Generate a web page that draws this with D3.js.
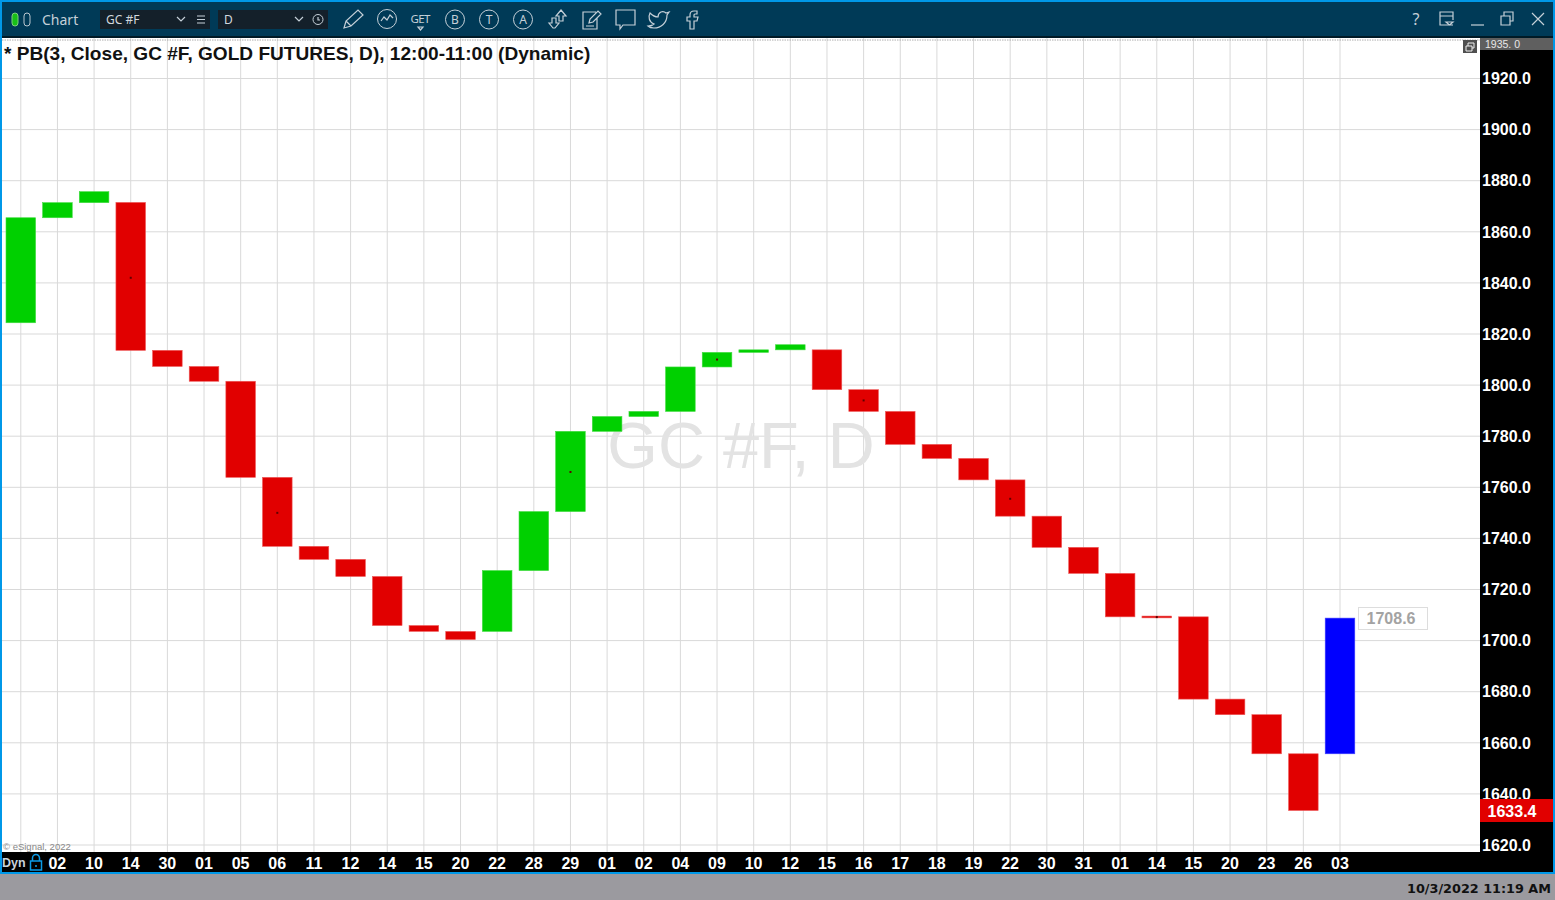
<!DOCTYPE html>
<html><head><meta charset="utf-8">
<script src="https://cdn.jsdelivr.net/npm/d3@7"></script>
<style>html,body{margin:0;padding:0;background:#fff;overflow:hidden}svg{display:block}</style>
</head><body><svg id="c" width="1555" height="900" font-family="Liberation Sans"></svg>
<script>
const dateLabels=["","02","10","14","30","01","05","06","11","12","14","15","20","22","28","29","01","02","04","09","10","12","15","16","17","18","19","22","30","31","01","14","15","20","23","26","03"];
const barHigh=[1865.5,1871.4,1875.7,1871.5,1813.6,1807.3,1801.5,1763.9,1736.9,1731.8,1725.1,1705.9,1703.6,1727.4,1750.5,1781.9,1787.7,1789.7,1807.1,1812.8,1813.8,1815.8,1813.8,1798.2,1789.7,1776.8,1771.3,1762.9,1748.7,1736.5,1726.3,1709.6,1709.3,1677.1,1671,1655.7,1708.8];
const barLow=[1824.4,1865.5,1871.4,1813.6,1807.3,1801.5,1763.9,1736.9,1731.8,1725.1,1705.9,1703.6,1700.4,1703.6,1727.4,1750.5,1781.9,1787.7,1789.7,1807.1,1812.8,1813.8,1798.2,1789.7,1776.8,1771.3,1762.9,1748.7,1736.5,1726.3,1709.3,1708.9,1677.1,1671,1655.7,1633.5,1655.7];
const barDir=["up","up","up","down","down","down","down","down","down","down","down","down","down","up","up","up","up","up","up","up","up","up","down","down","down","down","down","down","down","down","down","down","down","down","down","down","live"];
const dotIndex=[3,7,15,19,23,27,31];
const dotValue=[1842,1750,1766,1810,1794,1755.5,1709.2];
const priceTicks=[1620,1640,1660,1680,1700,1720,1740,1760,1780,1800,1820,1840,1860,1880,1900,1920];
const lastPrice=1708.6, lowPrice=1633.4;
const dirColor={up:"#00d000",down:"#e10000",live:"#0000ff"};
const dirEdge={up:"#40dc40",down:"#ee5a5a",live:"#4040ff"};

const svg=d3.select("#c");
const x=d3.scaleLinear().domain([0,36]).range([20.8,1340]);
const y=d3.scaleLinear().domain([1620,1920]).range([845,78.5]);
const rect=(px,py,w,h,f,p=svg)=>p.append("rect").attr("x",px).attr("y",py).attr("width",w).attr("height",h).attr("fill",f);

rect(0,0,1555,900,"#fff");
svg.append("g").selectAll("line").data(d3.range(0,37)).join("line")
 .attr("x1",d=>x(d)).attr("x2",d=>x(d)).attr("y1",38).attr("y2",852).attr("stroke","#d9d9d9").attr("stroke-width",1);
svg.append("g").selectAll("line").data(priceTicks).join("line")
 .attr("x1",2).attr("x2",1480).attr("y1",d=>y(d)).attr("y2",d=>y(d)).attr("stroke","#d9d9d9").attr("stroke-width",1);
svg.append("line").attr("x1",2).attr("x2",1480).attr("y1",40).attr("y2",40).attr("stroke","#aaa").attr("stroke-dasharray","1.5 1");
svg.append("text").attr("x",741).attr("y",468).attr("text-anchor","middle").attr("font-size",65).attr("fill","#e3e3e3").text("GC #F, D");
svg.append("g").selectAll("rect").data(barHigh).join("rect")
 .attr("x",(d,i)=>x(i)-14.8).attr("width",29.6)
 .attr("y",d=>y(d)).attr("height",(d,i)=>Math.max(1.2,y(barLow[i])-y(d)))
 .attr("fill",(d,i)=>dirColor[barDir[i]])
 .attr("stroke",(d,i)=>dirEdge[barDir[i]]).attr("stroke-width",0.6);
svg.append("g").selectAll("rect").data(dotIndex).join("rect")
 .attr("x",d=>x(d)-1).attr("y",(d,i)=>y(dotValue[i])-1).attr("width",2).attr("height",2).attr("fill","#600000");
svg.append("text").attr("x",4).attr("y",59.5).attr("font-size",19.08).attr("font-weight",700).attr("fill","#111").text("* PB(3, Close, GC #F, GOLD FUTURES, D), 12:00-11:00 (Dynamic)");
svg.append("text").attr("x",3).attr("y",850).attr("font-size",9.5).attr("fill","#888").text("© eSignal, 2022");
rect(1358.5,607.5,69,22,"#fff").attr("stroke","#ddd");
svg.append("text").attr("x",1391).attr("y",624).attr("text-anchor","middle").attr("font-size",16).attr("font-weight",700).attr("fill","#a3a3a3").text(lastPrice.toFixed(1));
rect(1480,38,73,814,"#000");
rect(1480,38,73,12,"#5f5f5f");
svg.append("text").attr("x",1485).attr("y",48).attr("font-size",10.5).attr("fill","#e8e8e8").text("1935. 0");
const ya=svg.append("g").attr("transform","translate(1482,0.15)").call(d3.axisRight(y).tickValues(priceTicks).tickSize(0).tickPadding(0).tickFormat(d3.format(".1f")));
ya.select(".domain").remove();
ya.selectAll("text").attr("font-size",16).attr("font-weight",700).attr("font-family","Liberation Sans").attr("fill","#fff");
rect(1480,799,73,23,"#e10000");
svg.append("text").attr("x",1512).attr("y",816.5).attr("text-anchor","middle").attr("font-size",16).attr("font-weight",700).attr("fill","#fff").text(lowPrice.toFixed(1));
rect(1463,40,14,13,"#4f4f4f");
svg.append("path").attr("d","M1466 46h6v5h-6zM1468 46v-3h6v5h-2").attr("fill","none").attr("stroke","#eee");
rect(0,852,1555,20,"#000");
const xa=svg.append("g").attr("transform","translate(-0.6,856)").call(d3.axisBottom(x).tickValues(d3.range(1,37)).tickSize(0).tickPadding(2).tickFormat(i=>dateLabels[i]));
xa.select(".domain").remove();
xa.selectAll("text").attr("font-size",16).attr("font-weight",700).attr("font-family","Liberation Sans").attr("fill","#fff");
svg.append("text").attr("x",2).attr("y",867).attr("font-size",12.5).attr("font-weight",700).attr("fill","#c9d2dc").text("Dyn");
svg.append("path").attr("d","M30.500 861h11v9h-11zM32.500 861v-3a3.500 3.500 0 0 1 7 0v3M36 865v2").attr("fill","none").attr("stroke","#0a9be8").attr("stroke-width",1.5);
rect(0,872,1555,28,"#9b9a9f");
rect(0,872,1555,2,"#0098e8");
svg.append("text").attr("x",1551).attr("y",893).attr("text-anchor","end").attr("font-family","DejaVu Sans").attr("font-size",12.8).attr("font-weight",700).attr("fill","#111").text("10/3/2022 11:19 AM");
rect(0,0,1555,37,"#003a57");
rect(0,36,1555,2,"#001a26");
rect(0,0,1555,2,"#0098e8");
rect(0,0,2,874,"#0098e8");
rect(1553,0,2,874,"#0098e8");
svg.append("rect").attr("x",12).attr("y",13).attr("width",6).attr("height",13).attr("rx",3).attr("fill","#18c018").attr("stroke","#7fd07f");
svg.append("rect").attr("x",24).attr("y",13).attr("width",6).attr("height",13).attr("rx",3).attr("fill","none").attr("stroke","#b9c6cf");
svg.append("text").attr("x",42).attr("y",24.5).attr("font-size",14).attr("font-family","Noto Sans").attr("fill","#c5d0d8").text("Chart");
rect(100,10,110,19,"#14202a"); rect(218,10,110,19,"#14202a");
svg.append("text").attr("x",106).attr("y",24).attr("font-size",12).attr("font-family","Noto Sans").attr("fill","#d2d8dd").text("GC #F");
svg.append("text").attr("x",224).attr("y",24).attr("font-size",12).attr("font-family","Noto Sans").attr("fill","#d2d8dd").text("D");
const stroke="#c5d0d8";
const ic=d=>svg.append("path").attr("d",d).attr("fill","none").attr("stroke",stroke).attr("stroke-width",1.2);
ic("M177 17l4 4 4-4M295 17l4 4 4-4M197 16h8M197 19.500h8M197 23h8");
svg.append("circle").attr("cx",318).attr("cy",19.5).attr("r",5).attr("fill","none").attr("stroke",stroke);
ic("M318 17v3h2");
ic("M344 28l2-7 12-11 5 5-12 11zM346 21l5 5");
svg.append("circle").attr("cx",387).attr("cy",19).attr("r",9.5).attr("fill","none").attr("stroke",stroke);
ic("M381 21l3-4 3 3 3-5 3 3");
svg.append("text").attr("x",420.5).attr("y",23).attr("text-anchor","middle").attr("font-size",11.5).attr("font-family","Noto Sans").attr("textLength",20).attr("fill",stroke).text("GET");
ic("M418 27h5l-2.500 3z");
[["B",455],["T",489],["A",523]].forEach(([t,cx])=>{
 svg.append("circle").attr("cx",cx).attr("cy",19.5).attr("r",9.5).attr("fill","none").attr("stroke",stroke);
 svg.append("text").attr("x",cx).attr("y",24).attr("text-anchor","middle").attr("font-size",12).attr("font-family","Noto Sans").attr("fill",stroke).text(t);
});
ic("M553 28l-4-5h3v-5h4v5h3l-4 5zM561 10l5 6h-3v5h-4v-5h-3z");
ic("M596 12h-13v17h14v-11M589 23l1-4 8-8 3 3-8 8zM586 26h8");
ic("M616 10h19v15h-12l-3 4v-4h-4z");
ic("M650 13c3 3 6 4 8 4 0-5 5-7 8-4l3-1-2 3c0 8-6 13-13 13-3 0-5-1-6-2 3 0 5-1 6-2-5-2-6-7-4-11z");
ic("M697 11h-3c-3 0-4 2-4 4v2h-3v4h3v8h4v-8h3l1-4h-4v-2c0-1 .5-1 1-1h2z");
svg.append("text").attr("x",1416).attr("y",25).attr("text-anchor","middle").attr("font-size",16).attr("font-family","Noto Sans").attr("fill",stroke).text("?");
ic("M1453 25h-13v-13h13v8M1440 16h13M1446 22h7l-3.500 3z");
ic("M1471 25h13");
ic("M1501 16h9v9h-9zM1504 16v-4h9v9h-3");
ic("M1532 13l12 12M1544 13l-12 12");
</script></body></html>
